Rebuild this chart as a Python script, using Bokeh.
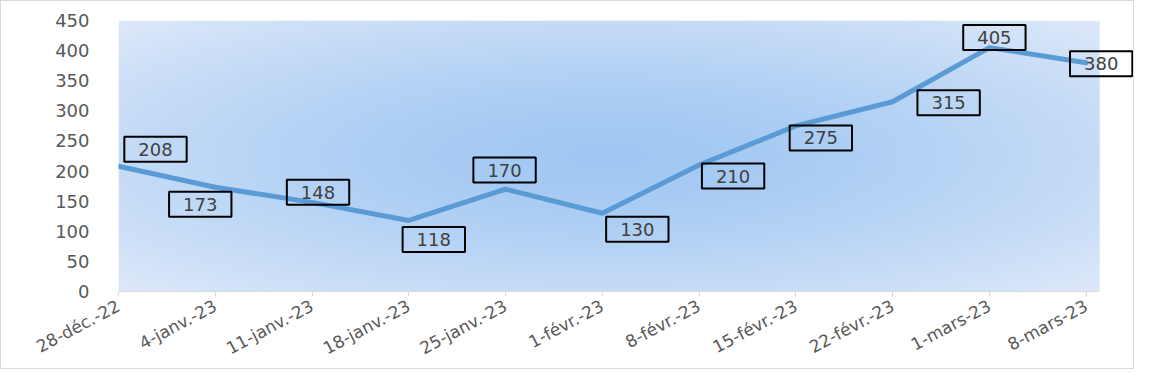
import numpy as np
from bokeh.plotting import figure
from bokeh.models import ColumnDataSource, Range1d, FixedTicker
from bokeh.core.properties import value
from bokeh.embed import file_html
from bokeh.resources import INLINE

# ---- data ----
dates = ["28-déc.-22", "4-janv.-23", "11-janv.-23", "18-janv.-23", "25-janv.-23",
         "1-févr.-23", "8-févr.-23", "15-févr.-23", "22-févr.-23", "1-mars-23", "8-mars-23"]
values = [208, 173, 148, 118, 170, 130, 210, 275, 315, 405, 380]
y_ticks = [0, 50, 100, 150, 200, 250, 300, 350, 400, 450]

# ---- label placement (screen px, style only) ----
label_dx = [37, -15, 6, 25, -1, 35, 34, 25, 56, 5, 15]
label_dy = [-17, 17, -10, 19, -19, 16, 11, 12, 1, -10, 1]

FONT = "DejaVu Sans"
xs = list(range(len(dates)))
area_end = len(dates) - 1 + 0.14      # shaded plot area ends a little after last point
view_end = len(dates) - 1 + 0.51      # frame runs on to the figure edge

p = figure(width=1134, height=369, output_backend="svg", toolbar_location=None,
           x_range=Range1d(0, view_end), y_range=Range1d(y_ticks[0], y_ticks[-1]),
           min_border_left=117, min_border_right=0, min_border_top=19, min_border_bottom=76)
p.styles = {"border": "1px solid #d9d9d9"}
p.background_fill_color = "white"
p.border_fill_color = "white"
p.outline_line_color = None
p.grid.visible = False

# radial gradient background of plot area
H, W = 137, 490
yy, xx = np.mgrid[0:H, 0:W]
r = np.sqrt(((xx - (W - 1) / 2) / (W / 2)) ** 2 + ((yy - (H - 1) / 2) / (H / 2)) ** 2)
t = np.clip(r / 1.414, 0, 1) ** 1.4
c0 = np.array([160, 199, 243])
c1 = np.array([222, 233, 249])
img = np.zeros((H, W, 4), dtype=np.uint8)
for k in range(3):
    img[:, :, k] = (c0[k] + (c1[k] - c0[k]) * t).astype(np.uint8)
img[:, :, 3] = 255
p.image_rgba(image=[img.view(dtype=np.uint32).reshape(H, W)], x=0, y=y_ticks[0],
             dw=area_end, dh=y_ticks[-1] - y_ticks[0])

src = ColumnDataSource(dict(x=xs, y=values, lab=[str(v) for v in values],
                            dx=label_dx, dy=label_dy))

p.line("x", "y", source=src, line_color="#5b9bd5", line_width=5, line_join="round",
       line_cap="round")

p.text("x", "y", text="lab", source=src, x_offset="dx", y_offset="dy",
       text_align="center", text_baseline="middle", text_font=value(FONT),
       text_font_size="18px", text_color="#404040",
       border_line_color="black", border_line_width=2, background_fill_color=None,
       padding=(14, 6))

# axes
p.xaxis.ticker = FixedTicker(ticks=xs)
p.xaxis.bounds = (0, area_end)
p.xaxis.major_label_overrides = {i: d for i, d in enumerate(dates)}
p.xaxis.major_label_orientation = 0.49
p.xaxis.axis_line_color = "#d9d9d9"
p.xaxis.major_tick_line_color = "#d9d9d9"
p.xaxis.major_tick_out = 5
p.xaxis.major_tick_in = 0
p.xaxis.minor_tick_line_color = None
p.xaxis.major_label_standoff = 8
p.xaxis.major_label_text_font_size = "17px"

p.yaxis.ticker = FixedTicker(ticks=y_ticks)
p.yaxis.axis_line_color = None
p.yaxis.major_tick_line_color = None
p.yaxis.minor_tick_line_color = None
p.yaxis.major_tick_out = 0
p.yaxis.major_label_standoff = 29
p.yaxis.major_label_text_font_size = "18px"

for ax in (p.xaxis, p.yaxis):
    ax.major_label_text_font = FONT
    ax.major_label_text_color = "#595959"

open("out.html", "w").write(file_html(p, INLINE))
